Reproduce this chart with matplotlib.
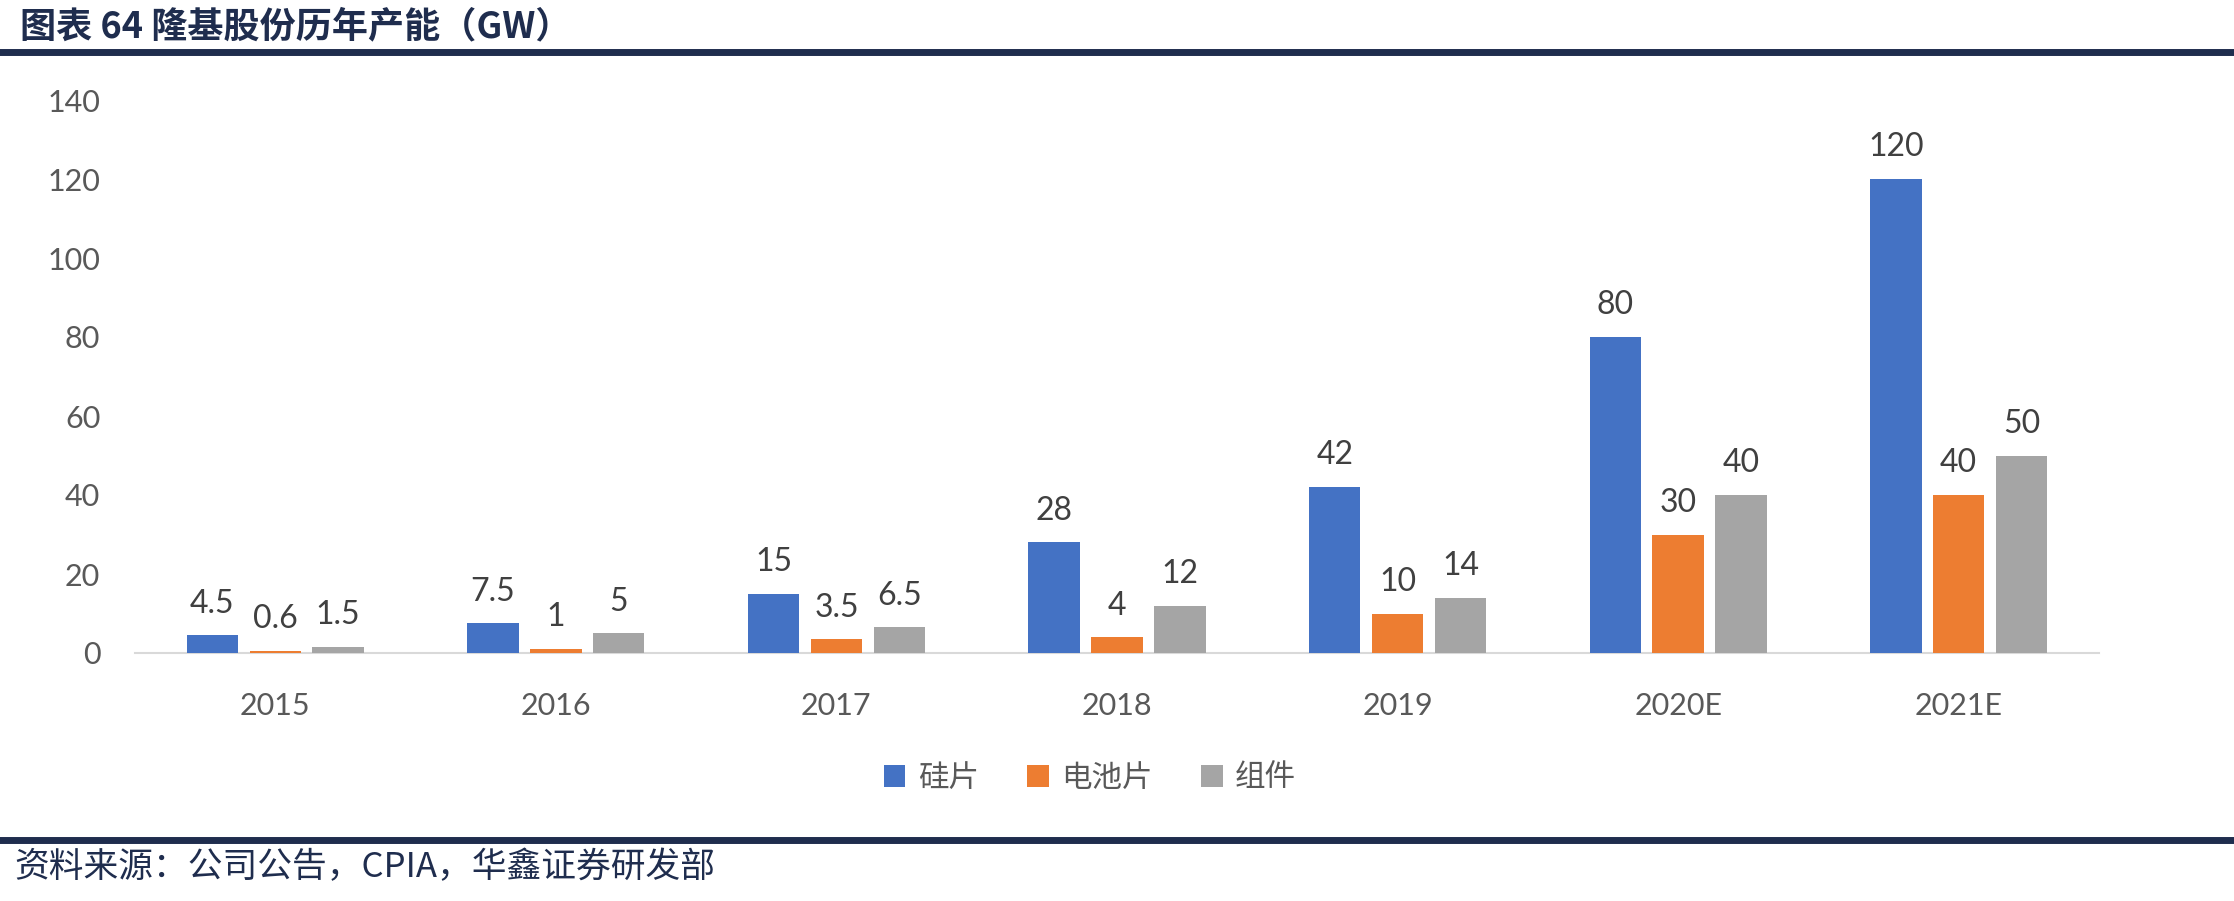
import numpy as np
import matplotlib.pyplot as plt
from matplotlib.lines import Line2D

plt.rcParams['font.family'] = ['Lato', 'Noto Sans CJK SC', 'DejaVu Sans']

# 数据
years = ['2015', '2016', '2017', '2018', '2019', '2020E', '2021E']
silicon = [4.5, 7.5, 15, 28, 42, 80, 120]
cell = [0.6, 1, 3.5, 4, 10, 30, 40]
module = [1.5, 5, 6.5, 12, 14, 40, 50]
labels_txt = [
    ['4.5', '7.5', '15', '28', '42', '80', '120'],
    ['0.6', '1', '3.5', '4', '10', '30', '40'],
    ['1.5', '5', '6.5', '12', '14', '40', '50'],
]
names = ['硅片', '电池片', '组件']
colors = ['#4472C4', '#ED7D31', '#A5A5A5']

W, H = 2234, 901
fig = plt.figure(figsize=(W / 100, H / 100), dpi=100)

ax = fig.add_axes([135 / W, 1 - 653 / H, (2099 - 135) / W, (653 - 100) / H])

x = np.arange(len(years))
width = 0.183
offsets = [-0.224, 0, 0.224]
series = [silicon, cell, module]
for vals, off, c, lab, txts in zip(series, offsets, colors, names, labels_txt):
    bars = ax.bar(x + off, vals, width, color=c, label=lab, zorder=3)
    for b, t in zip(bars, txts):
        ax.annotate(t, (b.get_x() + b.get_width() / 2, b.get_height()),
                    xytext=(0, 12), textcoords='offset points',
                    ha='center', va='bottom', fontsize=23, color='#404040')

ax.set_xlim(-0.5, len(years) - 0.5)
ax.set_ylim(0, 140)
ax.set_yticks(range(0, 141, 20))
ax.set_xticks(x)
ax.set_xticklabels(years)
ax.tick_params(axis='both', length=0, labelsize=22, colors='#595959')
ax.tick_params(axis='y', pad=25)
ax.tick_params(axis='x', pad=28)
for s in ['top', 'right', 'left']:
    ax.spines[s].set_visible(False)
ax.spines['bottom'].set_color('#D9D9D9')
ax.spines['bottom'].set_linewidth(1.5)

leg = fig.legend(loc='center', bbox_to_anchor=(1090 / W, 1 - 778 / H), ncol=3,
                 frameon=False, handlelength=0.7, handleheight=0.7,
                 handletextpad=0.4, columnspacing=1.6,
                 prop={'family': ['Noto Sans CJK SC'], 'size': 22})
for t in leg.get_texts():
    t.set_color('#595959')

navy = '#1F2D4E'
# 标题
fig.text(20 / W, 1 - 27 / H, '图表 64 隆基股份历年产能（GW）', fontsize=26,
         color=navy, fontweight='bold', va='center', ha='left',
         family=['Noto Sans CJK SC', 'DejaVu Sans'])
fig.add_artist(Line2D([0, 1], [1 - 52 / H, 1 - 52 / H], color=navy, lw=5))

# 底部
fig.add_artist(Line2D([0, 1], [1 - 840 / H, 1 - 840 / H], color=navy, lw=5))
fig.text(14 / W, 1 - 868 / H, '资料来源：公司公告，CPIA，华鑫证券研发部', fontsize=25,
         color=navy, va='center', ha='left',
         family=['Noto Sans CJK SC', 'DejaVu Sans'])

fig.savefig('out.png', dpi=100)
